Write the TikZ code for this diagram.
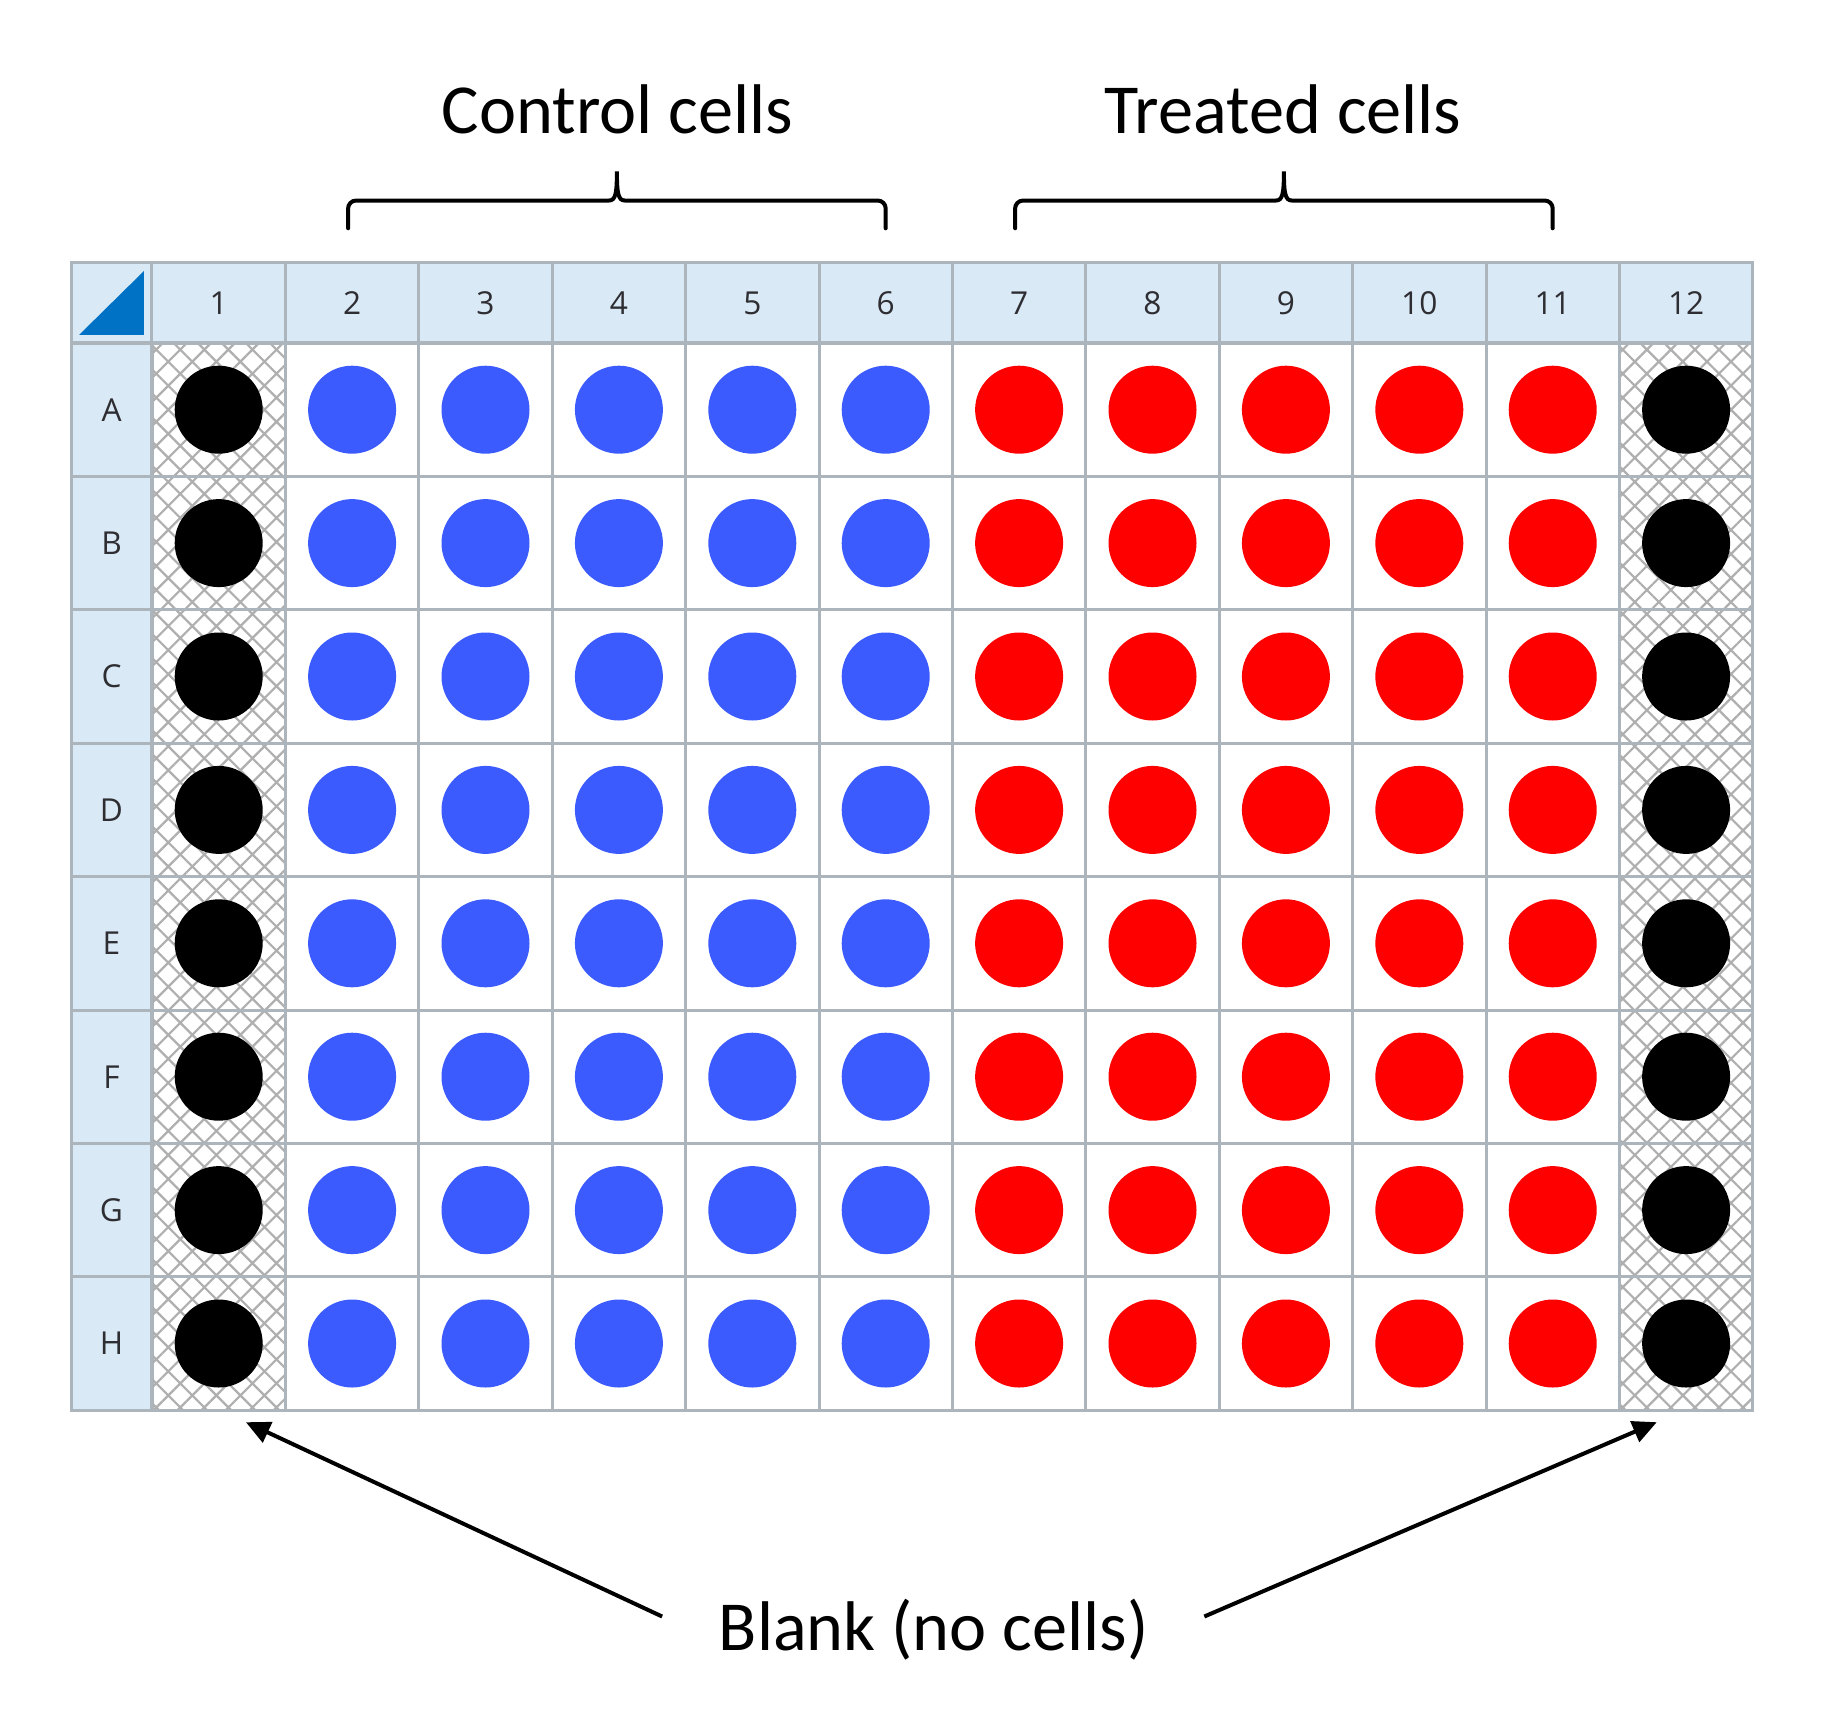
\documentclass[tikz,border=0pt]{standalone}
\usepackage{fontspec}
\setmainfont{Carlito}
\newfontfamily\platefont{Open Sans}
\usepackage{xcolor}
\usepackage{tikz}
\usetikzlibrary{positioning, arrows.meta, patterns.meta}
\definecolor{gridgray}{RGB}{172,180,188}
\definecolor{headblue}{RGB}{218,233,246}
\definecolor{labelgray}{RGB}{45,45,50}
\definecolor{hatchgray}{RGB}{175,175,175}
\definecolor{cornerblue}{RGB}{0,114,198}
\definecolor{wellblue}{RGB}{59,91,255}
\definecolor{wellred}{RGB}{255,0,0}

\begin{document}
\begin{tikzpicture}[x=1.334cm, y=1.334cm,
    cell/.style={rectangle, draw=gridgray, line width=0.03cm, fill=white, minimum size=1.334cm, inner sep=0pt},
    blankcell/.style={cell, pattern={Hatch[angle=45, distance=0.17cm, line width=0.022cm]}, pattern color=hatchgray},
    headcell/.style={rectangle, draw=gridgray, line width=0.03cm, fill=headblue, minimum width=1.334cm, minimum height=0.8cm, inner sep=0pt, text=labelgray, font=\platefont\fontsize{9}{10}\selectfont},
    rowcell/.style={headcell, minimum width=0.81cm, minimum height=1.334cm},
    well/.style={circle, minimum size=0.88cm, inner sep=0pt},
    title/.style={inner sep=0pt, font=\fontsize{20}{24}\selectfont},
    bracket/.style={line width=0.04cm, line cap=round},
    arrow/.style={-{Triangle[length=0.24cm, width=0.22cm]}, line width=0.04cm}
]
    \path[use as bounding box, fill=white] (-1.1394,-10.4123) rectangle (12.5637,2.5712);

    % Corner cell
    \node[headcell, minimum width=0.81cm] (corner) at (-0.3035,0.3) {};
    \fill[cornerblue] (-0.547,0.06) -- (-0.06,0.06) -- (-0.06,0.54) -- cycle;

    % Column numbers
    \foreach \c in {1,...,12}
        \node[headcell] (col\c) at (\c-0.5,0.3) {\c};

    % Row letters
    \foreach \r [count=\i] in {A,B,C,D,E,F,G,H}
        \node[rowcell] (row\r) at (-0.3035,0.5-\i) {\r};

    % Plate wells
    \foreach \c/\kind/\tone in {1/blankcell/black, 2/cell/wellblue, 3/cell/wellblue, 4/cell/wellblue, 5/cell/wellblue, 6/cell/wellblue,
                                7/cell/wellred, 8/cell/wellred, 9/cell/wellred, 10/cell/wellred, 11/cell/wellred, 12/blankcell/black}
        \foreach \r [count=\i] in {A,B,C,D,E,F,G,H} {
            \node[\kind] (cell\r\c) at (\c-0.5,0.5-\i) {};
            \node[well, fill=\tone] (well\r\c) at (cell\r\c) {};
        }

    % Group brackets
    \foreach \a/\b in {1.47/5.5, 6.47/10.5}
        \draw[bracket] (\a,0.86) -- (\a,1.008) arc[start angle=180, end angle=90, radius=0.06]
            -- ({(\a+\b)/2-0.06},1.068) .. controls ({(\a+\b)/2-0.01},1.068) and ({(\a+\b)/2},1.12) .. ({(\a+\b)/2},1.286)
            .. controls ({(\a+\b)/2},1.12) and ({(\a+\b)/2+0.01},1.068) .. ({(\a+\b)/2+0.06},1.068)
            -- ({\b-0.06},1.068) arc[start angle=90, end angle=0, radius=0.06] -- (\b,0.86);

    % Group labels
    \node[title, anchor=base] (control) at (3.49,1.567) {Control cells};
    \node[title, anchor=base] (treated) at (8.48,1.567) {Treated cells};
    \node[title, anchor=base] (blank) at (5.86,-9.80) {Blank (no cells)};

    % Arrows to the blank columns
    \coordinate (tipL) at (0.704,-8.09);
    \coordinate (tipR) at (11.28,-8.09);
    \draw[arrow] ([xshift=-0.56cm, yshift=0.13cm]blank.west) -- (tipL);
    \draw[arrow] ([xshift=0.55cm, yshift=0.13cm]blank.east) -- (tipR);

\end{tikzpicture}
\end{document}
